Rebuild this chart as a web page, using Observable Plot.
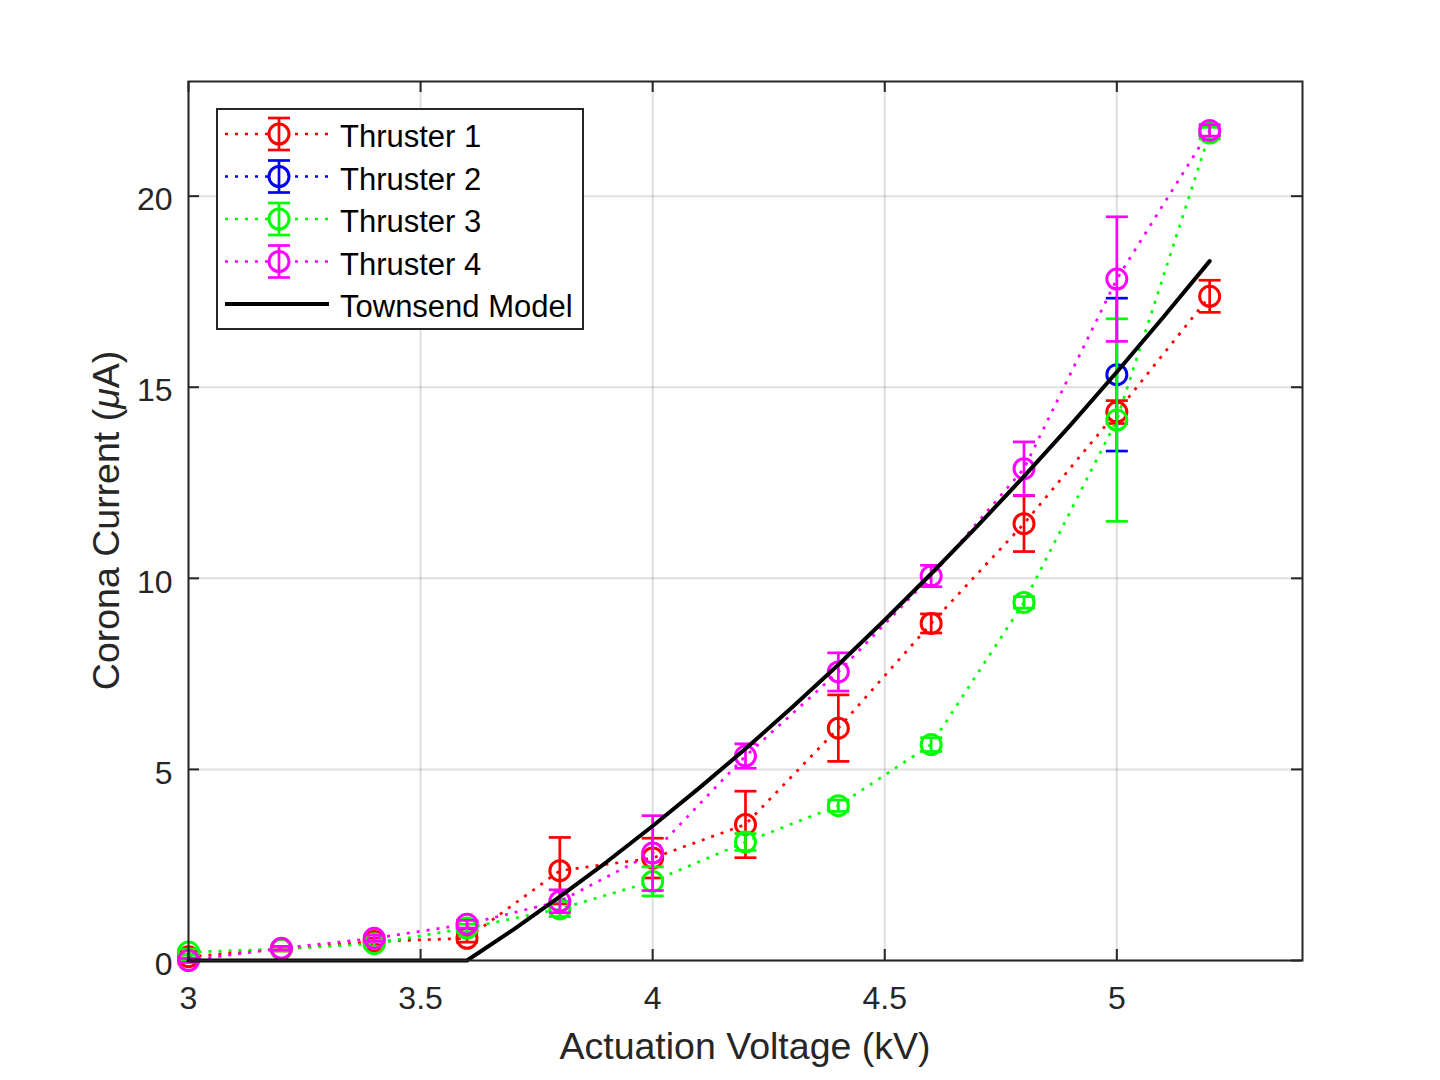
<!DOCTYPE html>
<html><head><meta charset="utf-8">
<script src="https://cdn.jsdelivr.net/npm/d3@7"></script>
<script src="https://cdn.jsdelivr.net/npm/@observablehq/plot@0.6"></script>
<style>body{margin:0;background:#fff} svg{display:block}</style>
</head><body><div id="chart"></div>
<script>
// ---- data ----
const volts = [3.0, 3.2, 3.4, 3.6, 3.8, 4.0, 4.2, 4.4, 4.6, 4.8, 5.0, 5.2];
const seriesNames = ["Thruster 1", "Thruster 2", "Thruster 3", "Thruster 4"];
const seriesColors = ["#ff0000", "#0000ff", "#00ff00", "#ff00ff"];
const thruster1 = [0.10, 0.30, 0.50, 0.58, 2.35, 2.68, 3.56, 6.08, 8.82, 11.43, 14.35, 17.38];
const thruster1Err = [0.05, 0.05, 0.08, 0.10, 0.87, 0.52, 0.87, 0.87, 0.25, 0.73, 0.30, 0.42];
const thruster2 = [null, null, null, null, null, null, null, null, null, null, 15.33, null];
const thruster2Err = [null, null, null, null, null, null, null, null, null, null, 2.0, null];
const thruster3 = [0.22, 0.30, 0.44, 0.85, 1.35, 2.07, 3.10, 4.05, 5.65, 9.37, 14.14, 21.65];
const thruster3Err = [0.08, 0.05, 0.08, 0.10, 0.20, 0.38, 0.22, 0.15, 0.18, 0.15, 2.65, 0.15];
const thruster4 = [0.00, 0.32, 0.58, 0.95, 1.55, 2.81, 5.35, 7.55, 10.06, 12.87, 17.83, 21.72];
const thruster4Err = [0.05, 0.05, 0.08, 0.10, 0.30, 0.98, 0.32, 0.50, 0.28, 0.70, 1.63, 0.15];
const townsendV = [3.0, 3.6, 3.7, 3.8, 3.9, 4.0, 4.1, 4.2, 4.3, 4.4, 4.5, 4.6, 4.7, 4.8, 4.9, 5.0, 5.1, 5.2];
const townsendI = [0, 0, 0.81, 1.67, 2.57, 3.52, 4.51, 5.54, 6.62, 7.74, 8.91, 10.12, 11.37, 12.67, 14.01, 15.40, 16.83, 18.30];
const xTicks = [3, 3.5, 4, 4.5, 5];
const yTicks = [0, 5, 10, 15, 20];
const modelName = "Townsend Model";

// ---- build ----
const values = [thruster1, thruster2, thruster3, thruster4];
const errs = [thruster1Err, thruster2Err, thruster3Err, thruster4Err];
const W = 1440, H = 1080, mL = 188, mR = 138, mT = 81, mB = 120;
const plotW = W - mL - mR, plotH = H - mT - mB;
const axisColor = "#262626";
const font = "'Liberation Sans', Arial, Helvetica, sans-serif";
const dash = "3,7";
const sw = 2.7;

const capSym = {draw(ctx, size) { const w = Math.sqrt(size / Math.PI); ctx.moveTo(-w, 0); ctx.lineTo(w, 0); }};

const seriesMarks = [];
values.forEach((vals, k) => {
  const rows = volts.map((v, j) => ({v, i: vals[j], e: errs[k][j]})).filter(d => d.i != null);
  const c = seriesColors[k];
  seriesMarks.push(
    Plot.line(rows, {x: "v", y: "i", stroke: c, strokeWidth: 2.7, strokeDasharray: dash, strokeLinecap: "butt"}),
    Plot.ruleX(rows, {x: "v", y1: d => d.i - d.e, y2: d => d.i + d.e, stroke: c, strokeWidth: sw}),
    Plot.dot(rows, {x: "v", y: d => d.i + d.e, symbol: capSym, r: 11, stroke: c, strokeWidth: sw, fill: "none"}),
    Plot.dot(rows, {x: "v", y: d => d.i - d.e, symbol: capSym, r: 11, stroke: c, strokeWidth: sw, fill: "none"}),
    Plot.dot(rows, {x: "v", y: "i", r: 10, stroke: c, strokeWidth: 3, fill: "none"})
  );
});
const townsend = townsendV.map((v, j) => ({v, i: townsendI[j]}));

const plot = Plot.plot({
  width: W, height: H,
  marginLeft: mL, marginRight: mR, marginTop: mT, marginBottom: mB,
  x: {domain: [3, 5.4]},
  y: {domain: [0, 23]},
  style: {fontFamily: font, fontSize: "32px", color: axisColor, background: "#fff"},
  marks: [
    Plot.ruleX(xTicks, {stroke: axisColor, strokeOpacity: 0.15, strokeWidth: 2}),
    Plot.ruleY(yTicks, {stroke: axisColor, strokeOpacity: 0.15, strokeWidth: 2}),
    ...seriesMarks,
    Plot.line(townsend, {x: "v", y: "i", stroke: "#000", strokeWidth: 4}),
    Plot.frame({stroke: axisColor, strokeWidth: 2}),
    Plot.ruleX(xTicks, {stroke: axisColor, strokeWidth: 2, insetTop: plotH - 11}),
    Plot.ruleX(xTicks, {stroke: axisColor, strokeWidth: 2, insetBottom: plotH - 11}),
    Plot.ruleY(yTicks, {stroke: axisColor, strokeWidth: 2, insetRight: plotW - 11}),
    Plot.ruleY(yTicks, {stroke: axisColor, strokeWidth: 2, insetLeft: plotW - 11}),
    Plot.axisX({ticks: xTicks, tickSize: 0, tickPadding: 26, label: null, fontSize: 32, tickFormat: d => String(d)}),
    Plot.axisY({ticks: yTicks, tickSize: 0, tickPadding: 16, label: null, fontSize: 32, dy: 4, tickFormat: d => String(d)})
  ]
});
document.getElementById("chart").appendChild(plot);

const svg = d3.select(plot);
// axis labels
svg.append("text").attr("x", mL + plotW / 2).attr("y", 1059).attr("text-anchor", "middle")
  .attr("font-family", font).attr("font-size", 37.5).attr("fill", axisColor).text("Actuation Voltage (kV)");
const yl = svg.append("text").attr("transform", `translate(119,${mT + plotH / 2}) rotate(-90)`)
  .attr("text-anchor", "middle").attr("font-family", font).attr("font-size", 37.5).attr("fill", axisColor);
yl.append("tspan").text("Corona Current (");
yl.append("tspan").attr("font-style", "italic").text("μ");
yl.append("tspan").text("A)");

// legend
const lg = svg.append("g").attr("text-anchor", "start");
lg.append("rect").attr("x", 217).attr("y", 109).attr("width", 366).attr("height", 220)
  .attr("fill", "#fff").attr("stroke", axisColor).attr("stroke-width", 2);
const rowY = (r) => 134 + r * 42.5;
seriesNames.forEach((name, k) => {
  const y = rowY(k), c = seriesColors[k];
  lg.append("line").attr("x1", 225).attr("x2", 333).attr("y1", y).attr("y2", y)
    .attr("stroke", c).attr("stroke-width", 2.7).attr("stroke-dasharray", dash);
  lg.append("line").attr("x1", 279).attr("x2", 279).attr("y1", y - 16).attr("y2", y + 16).attr("stroke", c).attr("stroke-width", sw);
  lg.append("line").attr("x1", 268).attr("x2", 290).attr("y1", y - 16).attr("y2", y - 16).attr("stroke", c).attr("stroke-width", sw);
  lg.append("line").attr("x1", 268).attr("x2", 290).attr("y1", y + 16).attr("y2", y + 16).attr("stroke", c).attr("stroke-width", sw);
  lg.append("circle").attr("cx", 279).attr("cy", y).attr("r", 10).attr("fill", "#fff").attr("stroke", c).attr("stroke-width", 3);
  lg.append("line").attr("x1", 279).attr("x2", 279).attr("y1", y - 10).attr("y2", y + 10).attr("stroke", c).attr("stroke-width", sw);
  lg.append("text").attr("x", 340).attr("y", y + 13).attr("text-anchor", "start").attr("font-family", font).attr("font-size", 31).attr("fill", "#000").text(name);
});
{
  const y = rowY(4);
  lg.append("line").attr("x1", 225).attr("x2", 329).attr("y1", y).attr("y2", y).attr("stroke", "#000").attr("stroke-width", 4);
  lg.append("text").attr("x", 340).attr("y", y + 13).attr("text-anchor", "start").attr("font-family", font).attr("font-size", 31).attr("fill", "#000").text(modelName);
}
</script></body></html>
